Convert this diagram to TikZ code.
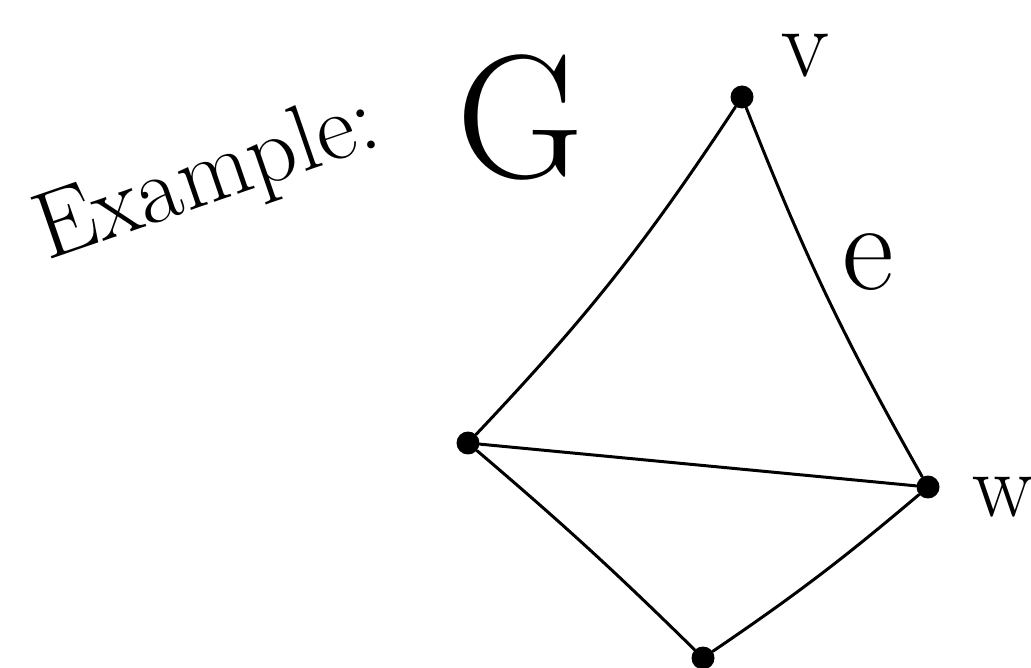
\documentclass[tikz,border=0pt]{standalone}
\begin{document}
\begin{tikzpicture}[x=0.02cm,y=-0.02cm,
  vert/.style={circle,fill=black,inner sep=0pt,minimum size=0.46cm},
  edge/.style={line width=1.7pt,line cap=round},
  lbl/.style={inner sep=0pt}]
\useasboundingbox (0,0) rectangle (1031,668);
\node[vert] (v) at (742,97) {};
\node[vert] (a) at (468,443) {};
\node[vert] (w) at (928,487) {};
\node[vert] (b) at (703,658) {};
\draw[edge] (v) to[bend left=5] (a);
\draw[edge] (v) to[bend right=4] (w);
\draw[edge] (a) to (w);
\draw[edge] (a) to[bend left=2] (b);
\draw[edge] (b) to[bend right=3] (w);
\node[lbl,rotate=19,font=\fontsize{54}{54}\selectfont] (ex) at (208,180) {Example:};
\node[lbl,font=\fontsize{100}{100}\selectfont] (g) at (520,118) {G};
\node[lbl,font=\fontsize{56}{56}\selectfont] (lv) at (805,56) {v};
\node[lbl,font=\fontsize{72}{72}\selectfont] (le) at (868,262) {e};
\node[lbl,font=\fontsize{52}{52}\selectfont] (lw) at (1003,497) {w};
\end{tikzpicture}
\end{document}
